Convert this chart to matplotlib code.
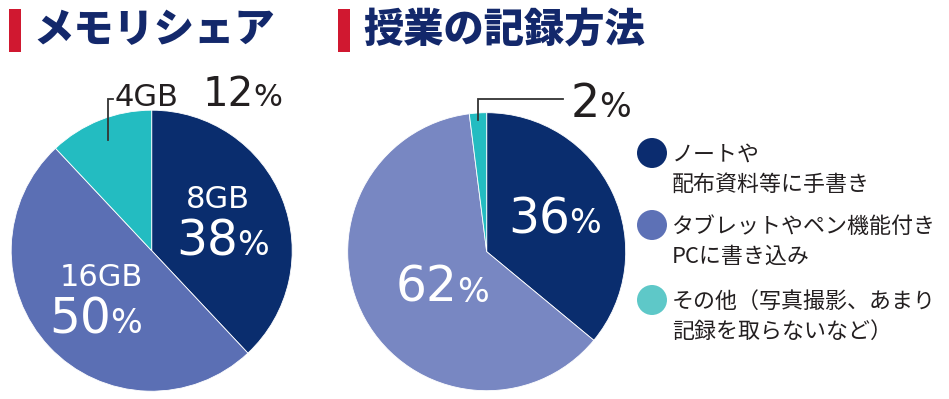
import matplotlib
matplotlib.use("Agg")
import matplotlib.pyplot as plt
import numpy as np
from matplotlib.patches import Rectangle, Circle

# ---- data ----
mem_title = "メモリシェア"
mem_labels = ["8GB", "16GB", "4GB"]
mem_shares = [38, 50, 12]
mem_colors = ["#0a2d6e", "#5b6fb4", "#23bcc1"]

rec_title = "授業の記録方法"
rec_labels = ["ノートや\n配布資料等に手書き",
              "タブレットやペン機能付き\nPCに書き込み",
              "その他（写真撮影、あまり\n記録を取らないなど）"]
rec_shares = [36, 62, 2]
rec_colors = ["#0a2d6e", "#7887c2", "#23bcc1"]
legend_colors = ["#0b2c6f", "#5d71b6", "#5ec8c8"]

W, H = 949, 399
JP = ["Noto Sans CJK JP", "DejaVu Sans"]
NUM = "DejaVu Sans"
NAVY = "#13286b"
RED = "#d01830"
DARK = "#231f20"


def Y(y):
    # pixel row (from top) -> data y
    return H - y


fig = plt.figure(figsize=(W / 100, H / 100), dpi=100)
ax = fig.add_axes([0, 0, 1, 1])


def draw_pie(values, colors, cx, cy, r):
    wedges, _ = ax.pie(values, colors=colors, startangle=90, counterclock=False,
                       center=(cx, Y(cy)), radius=r,
                       wedgeprops=dict(edgecolor="white", linewidth=0.6))
    return wedges


def pct(x_split, base, value, s_num, s_pct, color):
    ax.text(x_split, Y(base), f"{value}", ha="right", va="baseline",
            fontsize=s_num, family=NUM, color=color)
    ax.text(x_split - 1, Y(base), "%", ha="left", va="baseline",
            fontsize=s_pct, family=NUM, color=color)


def leader(wedge, frac, y_top, x_end):
    mid = np.deg2rad((wedge.theta1 + wedge.theta2) / 2)
    cx, cy = wedge.center
    x0 = cx + frac * wedge.r * np.cos(mid)
    y0 = cy + frac * wedge.r * np.sin(mid)
    ax.plot([x0, x0, x_end], [y0, Y(y_top), Y(y_top)], color="#333333", lw=1.3,
            solid_joinstyle="miter")


def title(x_bar, x_text, text):
    ax.add_patch(Rectangle((x_bar, Y(52)), 12, 43, color=RED, lw=0))
    ax.text(x_text, Y(30), text, ha="left", va="center", fontsize=29,
            family=JP, weight="black", color=NAVY)


# ---------- left: memory share ----------
title(9, 33, mem_title)
lw_ = draw_pie(mem_shares, mem_colors, 151.7, 250.7, 140.5)

ax.text(218, Y(208), mem_labels[0], ha="center", va="baseline", fontsize=22,
        family=NUM, color="white")
pct(238, 255, mem_shares[0], 35, 24, "white")
ax.text(101, Y(286), mem_labels[1], ha="center", va="baseline", fontsize=22,
        family=NUM, color="white")
pct(111, 333, mem_shares[1], 35, 24, "white")

leader(lw_[2], 0.85, 99, 113)
ax.text(115, Y(106), mem_labels[2], ha="left", va="baseline", fontsize=22,
        family=NUM, color=DARK)
pct(254, 106, mem_shares[2], 29, 22, DARK)

# ---------- right: recording method ----------
title(338, 363, rec_title)
rw = draw_pie(rec_shares, rec_colors, 486.7, 251.7, 139)

pct(570, 233, rec_shares[0], 35, 24, "white")
pct(458, 302, rec_shares[1], 35, 24, "white")
leader(rw[2], 0.95, 99, 563)
pct(600, 117, rec_shares[2], 33, 24, DARK)

# legend
circle_y = [153, 225, 300]
for lab, col, cyy in zip(rec_labels, legend_colors, circle_y):
    ax.add_patch(Circle((652, Y(cyy)), 15, color=col, lw=0))
    for i, line in enumerate(lab.split("\n")):
        ax.text(672, Y(cyy + 2 + 30 * i), line, ha="left", va="center",
                fontsize=15.8, family=JP, color=DARK)

ax.set_xlim(0, W)
ax.set_ylim(0, H)
ax.set_aspect("auto")
ax.axis("off")

fig.savefig("out.png", dpi=100, facecolor="white")
